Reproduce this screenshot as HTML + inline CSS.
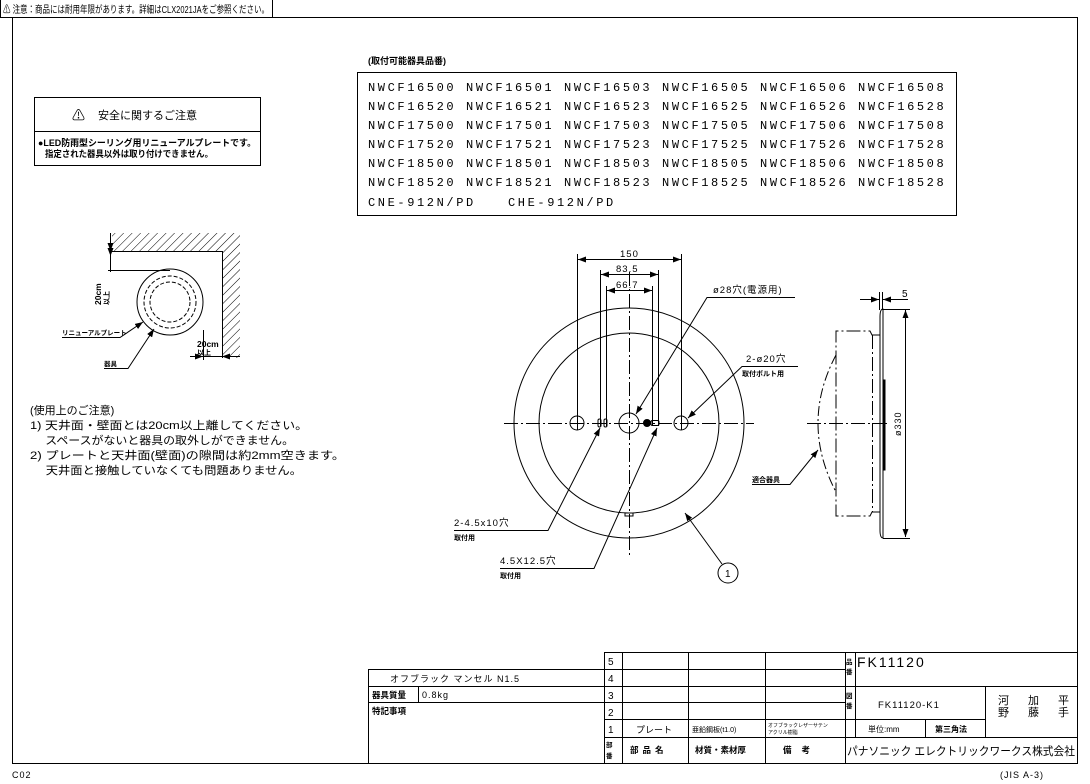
<!DOCTYPE html>
<html><head><meta charset="utf-8"><style>
html,body{margin:0;padding:0;background:#fff;}
svg{display:block;}
text{font-family:"Liberation Sans","Noto Sans CJK JP",sans-serif;fill:#000;}
.m{font-family:"Liberation Mono","Noto Sans CJK JP",monospace;}
</style></head><body>
<svg width="1090" height="784" viewBox="0 0 1090 784" xmlns="http://www.w3.org/2000/svg">
<defs>
<pattern id="h" width="6" height="6" patternUnits="userSpaceOnUse" patternTransform="rotate(45)">
<line x1="0" y1="0" x2="0" y2="6" stroke="#000" stroke-width="1"/></pattern>
<marker id="a" markerWidth="8" markerHeight="6" refX="8" refY="3" orient="auto" markerUnits="userSpaceOnUse"><path d="M0,0 L8,3 L0,6 z" fill="#000"/></marker>
</defs>
<g stroke="#000" fill="none" stroke-width="1">
<rect x="12.5" y="17.5" width="1065" height="746"/>
<polyline points="0.5,0 0.5,17.5 272.5,17.5 272.5,0"/>
<rect x="34.5" y="97.5" width="226" height="68"/>
<line x1="34" y1="131.5" x2="260" y2="131.5"/>
<rect x="357.5" y="72.5" width="599" height="143"/>
</g>
<text x="3" y="13" font-size="10" textLength="266" lengthAdjust="spacingAndGlyphs">⚠ 注意：商品には耐用年限があります。詳細はCLX2021JAをご参照ください。</text>
<text x="72" y="120" font-size="13">⚠</text>
<text x="98" y="119" font-size="11">安全に関するご注意</text>
<text x="38" y="146" font-size="9" font-weight="bold" textLength="218" lengthAdjust="spacingAndGlyphs">●LED防雨型シーリング用リニューアルプレートです。</text>
<text x="45" y="157" font-size="9" font-weight="bold" textLength="168" lengthAdjust="spacingAndGlyphs">指定された器具以外は取り付けできません。</text>
<text x="368" y="64" font-size="9" font-weight="bold">(取付可能器具品番)</text>
<g font-size="12" letter-spacing="2.6">
<text class="m" x="368" y="91">NWCF16500 NWCF16501 NWCF16503 NWCF16505 NWCF16506 NWCF16508</text>
<text class="m" x="368" y="110">NWCF16520 NWCF16521 NWCF16523 NWCF16525 NWCF16526 NWCF16528</text>
<text class="m" x="368" y="129">NWCF17500 NWCF17501 NWCF17503 NWCF17505 NWCF17506 NWCF17508</text>
<text class="m" x="368" y="148">NWCF17520 NWCF17521 NWCF17523 NWCF17525 NWCF17526 NWCF17528</text>
<text class="m" x="368" y="167">NWCF18500 NWCF18501 NWCF18503 NWCF18505 NWCF18506 NWCF18508</text>
<text class="m" x="368" y="186">NWCF18520 NWCF18521 NWCF18523 NWCF18525 NWCF18526 NWCF18528</text>
<text class="m" x="368" y="206">CNE-912N/PD</text>
<text class="m" x="508" y="206">CHE-912N/PD</text>
</g>

<path d="M112,233 H240 V358 H222 V251 H112 Z" fill="url(#h)" stroke="none"/>
<g stroke="#000" fill="none" stroke-width="1">
<polyline points="112,251.5 222.5,251.5 222.5,358"/>
<circle cx="170" cy="302" r="33"/>
<circle cx="170" cy="302" r="26" stroke-dasharray="4,2"/>
<circle cx="170" cy="302" r="20" stroke-dasharray="4,2"/>
<line x1="110.5" y1="233" x2="110.5" y2="272"/>
<line x1="110.5" y1="236" x2="110.5" y2="251" marker-end="url(#a)"/>
<line x1="110.5" y1="256" x2="110.5" y2="270" marker-start="url(#a)"/>
<line x1="108" y1="270.5" x2="170" y2="270.5"/>
<line x1="203.5" y1="330" x2="203.5" y2="360"/>
<line x1="190" y1="356.5" x2="240" y2="356.5"/>
<line x1="190" y1="356.5" x2="203" y2="356.5" marker-end="url(#a)"/>
<line x1="238" y1="356.5" x2="222" y2="356.5" marker-end="url(#a)"/>
<polyline points="62,337.5 120,337.5 143,322" marker-end="url(#a)"/>
<polyline points="104,368.5 128,368.5 154,329" marker-end="url(#a)"/>
</g>
<text font-size="8.5" font-weight="bold" transform="translate(101,305) rotate(-90)">20cm</text>
<text font-size="7" font-weight="bold" transform="translate(109,305) rotate(-90)">以上</text>
<text x="197" y="347" font-size="8.5" font-weight="bold">20cm</text>
<text x="197" y="355" font-size="7" font-weight="bold">以上</text>
<text x="62" y="335" font-size="6.5" font-weight="bold">リニューアルプレート</text>
<text x="104" y="366" font-size="6.5" font-weight="bold">器具</text>

<g font-size="11">
<text x="30" y="414">(使用上のご注意)</text>
<text x="30" y="429" textLength="278" lengthAdjust="spacingAndGlyphs">1) 天井面・壁面とは20cm以上離してください。</text>
<text x="30" y="444" textLength="264" lengthAdjust="spacingAndGlyphs">　 スペースがないと器具の取外しができません。</text>
<text x="30" y="459" textLength="315" lengthAdjust="spacingAndGlyphs">2) プレートと天井面(壁面)の隙間は約2mm空きます。</text>
<text x="30" y="474" textLength="272" lengthAdjust="spacingAndGlyphs">　 天井面と接触していなくても問題ありません。</text>
</g>

<g stroke="#000" fill="none" stroke-width="1">
<circle cx="629" cy="423" r="115"/>
<circle cx="629" cy="423" r="90"/>
<line x1="504" y1="423.5" x2="754" y2="423.5" stroke-dasharray="14,3,2,3"/>
<line x1="629.5" y1="272" x2="629.5" y2="555" stroke-dasharray="14,3,2,3"/>
<circle cx="577" cy="423" r="7"/>
<circle cx="681" cy="423" r="7"/>
<circle cx="629" cy="423" r="10"/>
<rect x="598" y="419" width="3" height="8" rx="1.5"/>
<rect x="604" y="419" width="3" height="8" rx="1.5"/>
<circle cx="647" cy="423" r="3.5" fill="#000"/>
<rect x="651" y="420.5" width="8" height="5" rx="1.5"/>
<rect x="625" y="513" width="8" height="3"/>
<line x1="577.5" y1="254" x2="577.5" y2="430"/>
<line x1="681.5" y1="254" x2="681.5" y2="430"/>
<line x1="600.5" y1="270" x2="600.5" y2="426"/>
<line x1="658.5" y1="270" x2="658.5" y2="426"/>
<line x1="606.5" y1="286" x2="606.5" y2="426"/>
<line x1="652.5" y1="286" x2="652.5" y2="426"/>
<line x1="629" y1="259.5" x2="578" y2="259.5" marker-end="url(#a)"/>
<line x1="629" y1="259.5" x2="681" y2="259.5" marker-end="url(#a)"/>
<line x1="629" y1="274.5" x2="601" y2="274.5" marker-end="url(#a)"/>
<line x1="629" y1="274.5" x2="658" y2="274.5" marker-end="url(#a)"/>
<line x1="629" y1="290.5" x2="607" y2="290.5" marker-end="url(#a)"/>
<line x1="629" y1="290.5" x2="652" y2="290.5" marker-end="url(#a)"/>
<polyline points="795,297.5 707,297.5 636,414" marker-end="url(#a)"/>
<polyline points="798,366.5 742,366.5 688,418" marker-end="url(#a)"/>
<polyline points="454,530.5 548,530.5 600,428" marker-end="url(#a)"/>
<polyline points="500,568.5 594,568.5 657,428" marker-end="url(#a)"/>
<line x1="722" y1="564" x2="685" y2="513" marker-end="url(#a)"/>
<circle cx="728" cy="573" r="10"/>
</g>
<g font-size="9.5" letter-spacing="1">
<text x="620" y="257">150</text>
<text x="616" y="272">83.5</text>
<text x="616" y="288">66.7</text>
<text x="713" y="293">ø28穴(電源用)</text>
<text x="746" y="362">2-ø20穴</text>
<text x="454" y="526">2-4.5x10穴</text>
<text x="500" y="564">4.5X12.5穴</text>
</g>
<text x="742" y="376" font-size="7" font-weight="bold">取付ボルト用</text>
<text x="454" y="540" font-size="7" font-weight="bold">取付用</text>
<text x="500" y="578" font-size="7" font-weight="bold">取付用</text>
<text x="725" y="577" font-size="10">1</text>

<g stroke="#000" fill="none" stroke-width="1">
<path d="M883,309 V538 Q880,538 880,530 V317 Q880,309 883,309 Z"/>
<line x1="883" y1="309.5" x2="910" y2="309.5"/>
<line x1="883" y1="538.5" x2="910" y2="538.5"/>
<line x1="905.5" y1="423" x2="905.5" y2="310" marker-end="url(#a)"/>
<line x1="905.5" y1="423" x2="905.5" y2="537" marker-end="url(#a)"/>
<line x1="882.5" y1="292" x2="882.5" y2="310"/>
<line x1="879.5" y1="292" x2="879.5" y2="310"/>
<line x1="860" y1="299.5" x2="879" y2="299.5" marker-end="url(#a)"/>
<line x1="908" y1="299.5" x2="883" y2="299.5" marker-end="url(#a)"/>
<polyline points="880,335 872,335 870,331 836,331 836,516 870,516 872,512 880,512" stroke-dasharray="14,3,2,3"/>
<line x1="872.5" y1="335" x2="872.5" y2="512" stroke-dasharray="14,3,2,3"/>
<path d="M836,355 Q800,423 836,492" stroke-dasharray="10,3,2,3"/>
<line x1="807" y1="423.5" x2="890" y2="423.5" stroke-dasharray="14,3,2,3"/>
<rect x="883" y="380" width="2" height="90" fill="#000"/>
<polyline points="752,484.5 790,484.5 818,450" marker-end="url(#a)"/>
</g>
<text x="902" y="297" font-size="10">5</text>
<text font-size="9" letter-spacing="1" transform="translate(901,436) rotate(-90)">ø330</text>
<text x="752" y="482" font-size="7" font-weight="bold">適合器具</text>

<g stroke="#000" fill="none" stroke-width="1">
<line x1="604.5" y1="652" x2="604.5" y2="763"/>
<line x1="622.5" y1="652" x2="622.5" y2="763"/>
<line x1="688.5" y1="652" x2="688.5" y2="763"/>
<line x1="765.5" y1="652" x2="765.5" y2="763"/>
<line x1="845.5" y1="652" x2="845.5" y2="763"/>
<line x1="855.5" y1="652" x2="855.5" y2="737"/>
<line x1="604" y1="652.5" x2="1077" y2="652.5"/>
<line x1="368" y1="669.5" x2="845" y2="669.5"/>
<line x1="368" y1="686.5" x2="1077" y2="686.5"/>
<line x1="368" y1="702.5" x2="845" y2="702.5"/>
<line x1="604" y1="719.5" x2="985" y2="719.5"/>
<line x1="604" y1="737.5" x2="1077" y2="737.5"/>
<line x1="368.5" y1="669" x2="368.5" y2="763"/>
<line x1="418.5" y1="686" x2="418.5" y2="702"/>
<line x1="985.5" y1="686" x2="985.5" y2="737"/>
<line x1="925.5" y1="719" x2="925.5" y2="737"/>
</g>
<g font-size="10">
<text x="608" y="665">5</text><text x="608" y="682">4</text><text x="608" y="699">3</text>
<text x="608" y="716">2</text><text x="608" y="733">1</text>
<text x="390" y="682" font-size="9" letter-spacing="1">オフブラック マンセル N1.5</text>
<text x="372" y="698" font-size="8.5" font-weight="bold">器具質量</text>
<text x="422" y="698" font-size="9" letter-spacing="1">0.8kg</text>
<text x="372" y="714" font-size="8.5" font-weight="bold">特記事項</text>
<text x="636" y="733" font-size="9">プレート</text>
<text x="692" y="732" font-size="7">亜鉛鋼板(t1.0)</text>
<text x="768" y="727" font-size="5">オフブラックレザーサテン</text>
<text x="768" y="734" font-size="5">アクリル樹脂</text>
<text x="630" y="753" font-size="8.5" font-weight="bold" letter-spacing="4">部品名</text>
<text x="695" y="753" font-size="8.5" font-weight="bold">材質・素材厚</text>
<text x="783" y="753" font-size="8.5" font-weight="bold" letter-spacing="10">備考</text>
<text x="606" y="747" font-size="6.5" font-weight="bold">部</text>
<text x="606" y="758" font-size="6.5" font-weight="bold">番</text>
<text x="846" y="664" font-size="6.5" font-weight="bold">品</text>
<text x="846" y="674" font-size="6.5" font-weight="bold">番</text>
<text x="846" y="698" font-size="6.5" font-weight="bold">図</text>
<text x="846" y="708" font-size="6.5" font-weight="bold">番</text>
<text x="857" y="667" font-size="14" letter-spacing="2">FK11120</text>
<text x="878" y="708" font-size="9.5" letter-spacing="1">FK11120-K1</text>
<text x="868" y="732" font-size="8">単位:mm</text>
<text x="935" y="732" font-size="8" font-weight="bold">第三角法</text>
<text x="998" y="704" font-size="11">河</text><text x="998" y="716" font-size="11">野</text>
<text x="1028" y="704" font-size="11">加</text><text x="1028" y="716" font-size="11">藤</text>
<text x="1058" y="704" font-size="11">平</text><text x="1058" y="716" font-size="11">手</text>
<text x="847" y="755" font-size="11.5" textLength="228" lengthAdjust="spacingAndGlyphs">パナソニック エレクトリックワークス株式会社</text>
<text x="12" y="778" font-size="9" letter-spacing="1">C02</text>
<text x="1000" y="778" font-size="9" letter-spacing="1">(JIS A-3)</text>
</g>
</svg>
</body></html>
